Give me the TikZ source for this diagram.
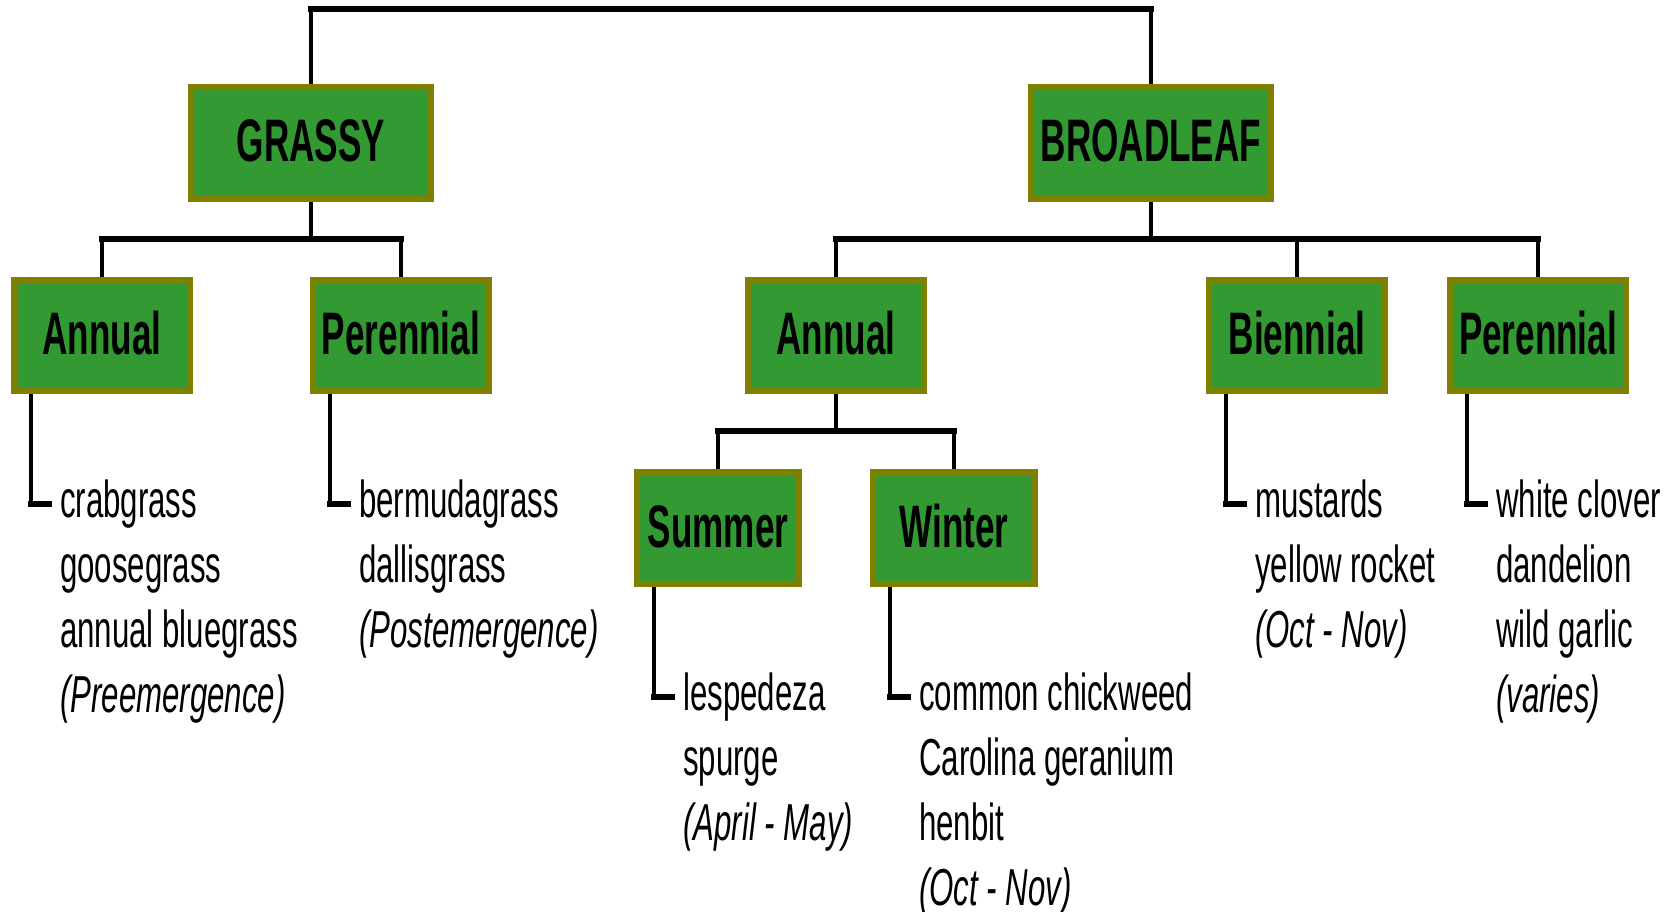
\documentclass[tikz,border=0pt]{standalone}
\usepackage{fontspec}
\setmainfont[FakeStretch=0.6]{Liberation Sans}
\newfontfamily\boxfont[FakeStretch=0.585]{Liberation Sans}
\usetikzlibrary{backgrounds}
\definecolor{weedgreen}{RGB}{51,153,51}
\definecolor{weedolive}{RGB}{128,128,0}
\tikzstyle{weedbox}=[draw=weedolive, fill=weedgreen, line width=6, inner sep=0, text height=38pt, text depth=0pt, font=\boxfont\bfseries\fontsize{60}{72}\selectfont]
\tikzstyle{topbox}=[weedbox, minimum width=240, minimum height=112]
\tikzstyle{midbox}=[weedbox, minimum width=176, minimum height=111]
\tikzstyle{lowbox}=[weedbox, minimum width=162, minimum height=112]
\tikzstyle{listtext}=[anchor=north west, align=left, inner sep=0, font=\fontsize{52}{65}\selectfont]
\tikzstyle{stemline}=[black, line width=4]
\tikzstyle{railline}=[black, line width=6.5, line cap=rect]
\newcommand{\weedlist}[3]{
  \coordinate (#2elbow) at ([xshift=20pt,yshift=-110pt]#1.south west);
  \node[listtext] (#2) at ([xshift=29pt,yshift=24pt]#2elbow) {#3};
}
\newcommand{\weedelbow}[2]{
  \draw[stemline] ([xshift=20pt]#1.south west) -- (#2elbow);
  \draw[railline] (#2elbow) -- ([xshift=-11pt]#2elbow -| #2.west);
}

\begin{document}
\begin{tikzpicture}[x=1pt, y=-1pt]
  \useasboundingbox (0,0) rectangle (1676,912);
  \coordinate (toprail) at (0,9);
  \coordinate (midrail) at (0,239);
  \coordinate (lowrail) at (0,431);
  \node[topbox] (grassy) at (311,143) {GRASSY};
  \node[topbox] (broadleaf) at (1151,143) {BROADLEAF};
  \node[midbox] (gannual) at (102,335.5) {Annual};
  \node[midbox] (gperennial) at (401,335.5) {Perennial};
  \node[midbox] (bannual) at (836,335.5) {Annual};
  \node[midbox] (biennial) at (1297,335.5) {Biennial};
  \node[midbox] (bperennial) at (1538,335.5) {Perennial};
  \node[lowbox] (summer) at (718,528) {Summer};
  \node[lowbox] (winter) at (954,528) {Winter};
  \weedlist{gannual}{gannuallist}{crabgrass\\goosegrass\\annual bluegrass\\\textit{(Preemergence)}}
  \weedlist{gperennial}{gperenniallist}{bermudagrass\\dallisgrass\\\textit{(Postemergence)}}
  \weedlist{summer}{summerlist}{lespedeza\\spurge\\\textit{(April - May)}}
  \weedlist{winter}{winterlist}{common chickweed\\Carolina geranium\\henbit\\\textit{(Oct - Nov)}}
  \weedlist{biennial}{biennialist}{mustards\\yellow rocket\\\textit{(Oct - Nov)}}
  \weedlist{bperennial}{bperenniallist}{white clover\\dandelion\\wild garlic\\\textit{(varies)}}
  \begin{scope}[on background layer]
    \draw[stemline] (grassy.north) -- (grassy.north |- toprail);
    \draw[stemline] (broadleaf.north) -- (broadleaf.north |- toprail);
    \draw[railline] (grassy.north |- toprail) -- (broadleaf.north |- toprail);
    \draw[stemline] (grassy.south) -- (grassy.south |- midrail);
    \draw[stemline] (gannual.north) -- (gannual.north |- midrail);
    \draw[stemline] (gperennial.north) -- (gperennial.north |- midrail);
    \draw[railline] (gannual.north |- midrail) -- (gperennial.north |- midrail);
    \draw[stemline] (broadleaf.south) -- (broadleaf.south |- midrail);
    \draw[stemline] (bannual.north) -- (bannual.north |- midrail);
    \draw[stemline] (biennial.north) -- (biennial.north |- midrail);
    \draw[stemline] (bperennial.north) -- (bperennial.north |- midrail);
    \draw[railline] (bannual.north |- midrail) -- (bperennial.north |- midrail);
    \draw[stemline] (bannual.south) -- (bannual.south |- lowrail);
    \draw[stemline] (summer.north) -- (summer.north |- lowrail);
    \draw[stemline] (winter.north) -- (winter.north |- lowrail);
    \draw[railline] (summer.north |- lowrail) -- (winter.north |- lowrail);
    \weedelbow{gannual}{gannuallist}
    \weedelbow{gperennial}{gperenniallist}
    \weedelbow{summer}{summerlist}
    \weedelbow{winter}{winterlist}
    \weedelbow{biennial}{biennialist}
    \weedelbow{bperennial}{bperenniallist}
  \end{scope}
\end{tikzpicture}
\end{document}
